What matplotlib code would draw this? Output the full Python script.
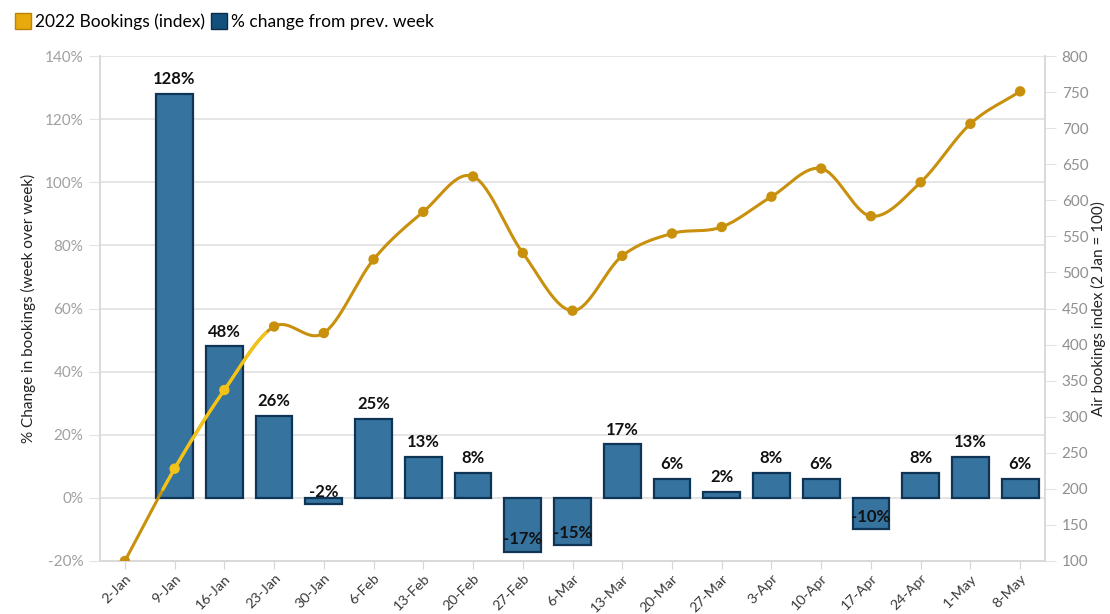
import numpy as np
import matplotlib
matplotlib.use("Agg")
import matplotlib.pyplot as plt
from matplotlib.lines import Line2D
from matplotlib.transforms import ScaledTranslation

plt.rcParams['font.family'] = ['Lato', 'DejaVu Sans']

weeks = ["2-Jan", "9-Jan", "16-Jan", "23-Jan", "30-Jan", "6-Feb", "13-Feb", "20-Feb",
         "27-Feb", "6-Mar", "13-Mar", "20-Mar", "27-Mar", "3-Apr", "10-Apr", "17-Apr",
         "24-Apr", "1-May", "8-May"]
pct_change = [None, 128, 48, 26, -2, 25, 13, 8, -17, -15, 17, 6, 2, 8, 6, -10, 8, 13, 6]
bookings_index = [100, 228, 337, 425, 416, 518, 584, 633, 527, 447, 523, 554, 563,
                  605, 644, 578, 625, 706, 751]

GOLD = "#c8900c"
YELLOW = "#f2c318"
BAR_FILL = "#36739e"
BAR_EDGE = "#0f3556"
GRID = "#e3e3e3"
TICK_TXT = "#a0a0a0"


def catmull_rom(xs, ys, n=30):
    xs = np.asarray(xs, float)
    ys = np.asarray(ys, float)
    px = np.concatenate([[2 * xs[0] - xs[1]], xs, [2 * xs[-1] - xs[-2]]])
    py = np.concatenate([[2 * ys[0] - ys[1]], ys, [2 * ys[-1] - ys[-2]]])
    out_x, out_y = [], []
    for i in range(1, len(px) - 2):
        t = np.linspace(0, 1, n, endpoint=False)
        for arr, out in ((px, out_x), (py, out_y)):
            p0, p1, p2, p3 = arr[i - 1], arr[i], arr[i + 1], arr[i + 2]
            out.append(0.5 * ((2 * p1) + (-p0 + p2) * t
                              + (2 * p0 - 5 * p1 + 4 * p2 - p3) * t ** 2
                              + (-p0 + 3 * p1 - 3 * p2 + p3) * t ** 3))
    out_x.append([xs[-1]])
    out_y.append([ys[-1]])
    return np.concatenate(out_x), np.concatenate(out_y)


fig = plt.figure(figsize=(11.10, 6.14), dpi=100)
ax = fig.add_axes([100 / 1110, 1 - 561 / 614, 945 / 1110, 505 / 614])
ax2 = ax.twinx()

x = np.arange(len(weeks))

# bars: weekly percentage change
bx = [i for i, v in enumerate(pct_change) if v is not None]
bv = [v for v in pct_change if v is not None]
ax.bar(bx, bv, width=0.74, color=BAR_FILL, edgecolor=BAR_EDGE, linewidth=1.6, zorder=3)
for i, v in zip(bx, bv):
    offset = 4.6 if v >= 0 else 4.0
    ax.text(i, v + offset, f"{v}%", ha="center", va="center", fontsize=12,
            fontweight="bold", color="#111111", zorder=5)

ax.set_xlim(-0.5, len(weeks) - 0.5)
ax.set_ylim(-20, 140)
ax.set_yticks(np.arange(-20, 141, 20))
ax.set_yticklabels([f"{t}%" for t in range(-20, 141, 20)])
ax.grid(axis="y", color=GRID, linewidth=1.3, zorder=0)
ax.set_axisbelow(True)
ax.set_xticks(x)
ax.set_xticklabels(weeks, rotation=45, ha="right", va="top", rotation_mode="anchor")
shift = ScaledTranslation(6 / 100, 0, fig.dpi_scale_trans)
for lbl in ax.get_xticklabels():
    lbl.set_transform(lbl.get_transform() + shift)
ax.tick_params(axis="x", length=6, color="#d6d6d6", labelsize=10.3, labelcolor="#3a3a3a", pad=2)
ax.tick_params(axis="y", length=8, color=GRID, labelsize=11, labelcolor=TICK_TXT, pad=4)
ax.set_ylabel("% Change in bookings (week over week)", fontsize=11, color="#222222", labelpad=6)

ax.spines["top"].set_visible(False)
ax2.spines["top"].set_visible(False)
for a in (ax, ax2):
    for side in ("left", "bottom", "right"):
        a.spines[side].set_color("#d9d9d9")
        a.spines[side].set_linewidth(1.2)

# line: bookings index on the secondary axis
sx, sy = catmull_rom(x, bookings_index)
ax2.plot(sx, sy, color=GOLD, linewidth=2.2, zorder=4, solid_capstyle="round")
hi = (sx >= 0.75) & (sx <= 2.85)
ax2.plot(sx[hi], sy[hi], color=YELLOW, linewidth=2.4, zorder=5, solid_capstyle="round")
mcolors = [YELLOW if i in (1, 2) else GOLD for i in x]
ax2.scatter(x, bookings_index, s=42, c=mcolors, edgecolors=mcolors, zorder=6)

ax2.set_ylim(100, 800)
ax2.set_yticks(np.arange(100, 801, 50))
ax2.tick_params(axis="y", length=8, color=GRID, labelsize=11, labelcolor="#8f8f8f", pad=4)
ax2.set_ylabel("Air bookings index (2 Jan = 100)", fontsize=11, color="#222222",
               rotation=90, ha="center", va="center")
ax2.yaxis.set_label_coords((1098 - 100) / 945, 0.5)
ax2.set_xlim(-0.5, len(weeks) - 0.5)

handles = [
    Line2D([], [], marker="s", linestyle="none", markersize=11,
           markerfacecolor="#e7a90e", markeredgecolor="#b98508", label="2022 Bookings (index)"),
    Line2D([], [], marker="s", linestyle="none", markersize=11,
           markerfacecolor="#14507c", markeredgecolor="#0a2d4c", label="% change from prev. week"),
]
fig.legend(handles=handles, loc="upper left", bbox_to_anchor=(0.0, 1.0), ncol=2,
           frameon=False, fontsize=12.5, handletextpad=0.2, columnspacing=0.3,
           handlelength=1.0, borderaxespad=0.4)

fig.savefig("out.png", dpi=100)
